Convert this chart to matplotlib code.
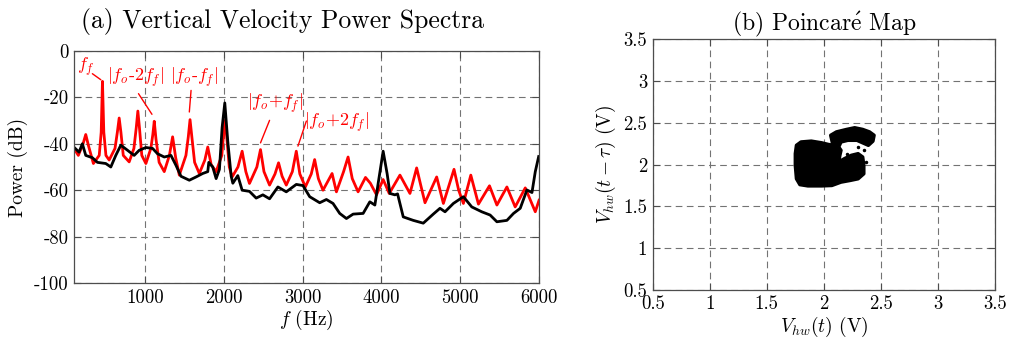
import matplotlib
matplotlib.use("Agg")
import matplotlib.pyplot as plt
import numpy as np

plt.rcParams["font.family"] = "serif"
plt.rcParams["font.serif"] = ["cmr10"]
plt.rcParams["mathtext.fontset"] = "cm"
plt.rcParams["axes.unicode_minus"] = False

# (a) spectra: frequency (Hz) and power (dB)
red_f = [100, 155, 215, 249, 285, 346, 420, 445, 461, 478, 505, 546, 620, 650, 673,
         695, 725, 800, 860, 890, 910, 930, 960, 1012, 1075, 1100, 1118, 1140, 1180,
         1245, 1310, 1351, 1390, 1436, 1520, 1550, 1572, 1595, 1630, 1690, 1760, 1797,
         1840, 1903, 1975, 2000, 2017, 2040, 2070, 2106, 2180, 2233, 2280, 2326, 2420,
         2466, 2510, 2581, 2650, 2695, 2740, 2793, 2870, 2920, 2965, 3035, 3110, 3153,
         3200, 3259, 3374, 3429, 3520, 3577, 3630, 3704, 3798, 3860, 3938, 4022, 4099,
         4235, 4362, 4447, 4500, 4553, 4701, 4786, 4921, 4980, 5040, 5134, 5231, 5371,
         5465, 5592, 5697, 5825, 5952, 6000]
red_db = [-42, -45, -40, -36, -41, -48.5, -45, -35, -13.1, -35, -45, -47, -42, -35, -28.9,
          -35, -45, -47.8, -42, -33, -25.9, -33, -45, -48.5, -42, -36, -30.3, -38, -48,
          -52, -45, -37, -46, -53.5, -45, -37, -29.6, -37, -48, -52.8, -47, -41.4,
          -49, -52, -45, -35, -29.9, -38, -50, -54.3, -50, -43.2, -52, -57.1, -50,
          -42.5, -52, -57.8, -53, -48.2, -54, -57.8, -52, -43.2, -53, -58.6, -53, -46.8,
          -55, -60, -52.8, -60.7, -52, -45.7, -55, -60.7, -54.5, -57, -62, -55.4, -61.4,
          -53.5, -61.4, -50.4, -58, -65.4, -54.3, -65.7, -51, -60, -65.7, -53.5, -66, -58.1,
          -66.4, -58.6, -67.2, -59, -69.3, -64.3]

black_f = [100, 164, 206, 249, 333, 397, 503, 567, 630, 694, 779, 863, 927, 1012, 1097,
           1160, 1245, 1330, 1394, 1457, 1563, 1648, 1733, 1797, 1810, 1860, 1903, 1945,
           1979, 2013, 2051, 2094, 2115, 2178, 2233, 2326, 2411, 2496, 2581, 2687, 2793,
           2920, 3005, 3090, 3217, 3302, 3386, 3471, 3556, 3641, 3768, 3853, 3917, 3959,
           4022, 4073, 4108, 4171, 4205, 4277, 4404, 4531, 4658, 4743, 4807, 4913, 5040,
           5146, 5273, 5379, 5465, 5592, 5676, 5761, 5846, 5910, 5952, 5995]
black_db = [-41.5, -43.6, -40, -45, -46, -48, -48.5, -50, -45, -40.6, -42.8, -45, -42.8,
            -41.6, -42, -44.3, -45.7, -45, -49.3, -54, -55.7, -54.3, -52.8, -52, -48, -50,
            -55, -51, -33, -22.4, -39, -54, -57, -53.7, -60, -60.5, -63.4, -62, -63.7,
            -58.6, -60.7, -57.5, -58, -62.8, -65.4, -64, -65.7, -70, -72.2, -70.3, -70,
            -65, -66.4, -57, -43.2, -53, -61.4, -62, -61.6, -71.5, -73, -74.2, -70.3,
            -67.8, -69.3, -65.7, -62.8, -67.2, -69.3, -70.7, -73.6, -73, -70, -67.8,
            -59.9, -61, -52, -45.5]

peak_labels = [r"$f_f$", r"$|f_o$-$2f_f|$", r"$|f_o$-$f_f|$", r"$|f_o{+}f_f|$",
               r"$|f_o{+}2f_f|$"]
label_pos = [(247, -6.9), (876, -11.4), (1627, -11.4), (2645, -22.6), (3433, -30.7)]
line_start = [(333, -9.8), (918, -18.4), (1585, -17.0), (2581, -29.9), (3048, -30.2)]
line_end = [(440, -12.4), (1089, -27.3), (1563, -26.3), (2466, -39.6), (2941, -41.0)]

# (b) Poincare map: outline of the dense point cloud (V)
cloud_x = [1.76, 1.80, 1.89, 1.98, 2.04, 2.08, 2.06, 2.11, 2.20, 2.27, 2.34, 2.40, 2.44,
           2.43, 2.39, 2.34, 2.29, 2.21, 2.15, 2.13, 2.15, 2.14, 2.13, 2.18, 2.24, 2.30,
           2.34, 2.35, 2.35, 2.30, 2.23, 2.15, 2.07, 1.98, 1.86, 1.79, 1.76, 1.75, 1.75]
cloud_y = [2.23, 2.27, 2.28, 2.26, 2.24, 2.23, 2.35, 2.39, 2.42, 2.44, 2.42, 2.39, 2.35,
           2.28, 2.23, 2.26, 2.29, 2.29, 2.27, 2.21, 2.17, 2.11, 2.03, 2.07, 2.11, 2.13,
           2.09, 1.99, 1.89, 1.83, 1.81, 1.79, 1.75, 1.745, 1.745, 1.76, 1.83, 1.99, 2.13]
stray_x = [2.20, 2.30, 2.35, 2.10, 2.37, 2.26]
stray_y = [2.13, 2.21, 2.17, 1.97, 2.03, 2.05]

fig = plt.figure(figsize=(10.11, 3.49), dpi=100)
grid_kw = dict(color="0.45", linestyle=(0, (6, 4)), linewidth=0.8)

# ---- (a) ----
ax1 = fig.add_axes([0.0732, 0.189, 0.4600, 0.665])
ax1.plot(red_f, red_db, color="red", lw=2.0)
ax1.plot(black_f, black_db, color="black", lw=2.0)
for txt, p, s, e in zip(peak_labels, label_pos, line_start, line_end):
    ax1.annotate("", xy=e, xytext=s, arrowprops=dict(arrowstyle="-", color="red", lw=1.0,
                                                      shrinkA=0, shrinkB=0))
    ax1.text(p[0], p[1], txt, color="red", fontsize=13, ha="center", va="center")
ax1.set_xlim(100, 6000)
ax1.set_ylim(-100, 0)
ax1.set_xticks([1000, 2000, 3000, 4000, 5000, 6000])
ax1.set_yticks([-100, -80, -60, -40, -20, 0])
ax1.set_xlabel(r"$f$ (Hz)", fontsize=14, labelpad=1)
ax1.set_ylabel("Power (dB)", fontsize=14, labelpad=4)
ax1.text(0.449, 1.07, "(a) Vertical Velocity Power Spectra", transform=ax1.transAxes,
         ha="center", va="bottom", fontsize=18.5)
ax1.grid(True, **grid_kw)

# ---- (b) ----
ax2 = fig.add_axes([0.6456, 0.169, 0.3386, 0.719])
ax2.fill(cloud_x, cloud_y, color="black", lw=2.5, joinstyle="round")
ax2.plot(stray_x, stray_y, "k.", ms=3)
ax2.set_xlim(0.5, 3.5)
ax2.set_ylim(0.5, 3.5)
ax2.set_xticks([0.5, 1, 1.5, 2, 2.5, 3, 3.5])
ax2.set_yticks([0.5, 1, 1.5, 2, 2.5, 3, 3.5])
ax2.set_xticklabels(["0.5", "1", "1.5", "2", "2.5", "3", "3.5"])
ax2.set_yticklabels(["0.5", "1", "1.5", "2", "2.5", "3", "3.5"])
ax2.set_xlabel(r"$V_{hw}(t)$ (V)", fontsize=14, labelpad=1)
ax2.set_ylabel(r"$V_{hw}(t-\tau)$ (V)", fontsize=14, labelpad=4)
ax2.set_title(r"(b) Poincar$\acute{\mathrm{e}}$ Map", fontsize=17, pad=6)
ax2.grid(True, **grid_kw)

for ax in (ax1, ax2):
    ax.set_axisbelow(True)
    ax.tick_params(direction="in", top=True, right=True, length=5, width=0.8,
                   color="0.3", labelsize=13.5, pad=4)
    for sp in ax.spines.values():
        sp.set_color("0.3")
        sp.set_linewidth(0.9)

fig.savefig("out.png", dpi=100)
